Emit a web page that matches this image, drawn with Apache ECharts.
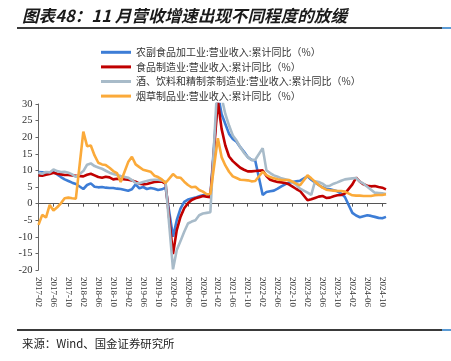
<!DOCTYPE html>
<html>
<head>
<meta charset="utf-8">
<script src="https://cdn.jsdelivr.net/npm/echarts@6/dist/echarts.min.js"></script>
<style>
html,body{margin:0;padding:0;background:#fff;}
#c{width:451px;height:361px;}
</style>
</head>
<body>
<div id="c"></div>
<script>
// Months 2017-02 .. 2024-11 (January has no cumulative value -> null)
var categories = [];
(function(){
  for (var y = 2017; y <= 2024; y++) {
    for (var m = 1; m <= 12; m++) {
      if (y === 2017 && m < 2) continue;
      if (y === 2024 && m > 11) continue;
      categories.push(y + '-' + (m < 10 ? '0' + m : '' + m));
    }
  }
})();

var seriesNames = [
  '农副食品加工业:营业收入:累计同比（%）',
  '食品制造业:营业收入:累计同比（%）',
  '酒、饮料和精制茶制造业:营业收入:累计同比（%）',
  '烟草制品业:营业收入:累计同比（%）'
];

var agriFood = [
  9.5, 9.4, 9.3, 9.3, 9.5, 8.8, 8.0, 7.3, 6.8, 6.3, 5.9,
  null, 4.4, 5.6, 6.1, 5.1, 4.9, 5.0, 4.8, 4.7, 4.7, 4.5, 4.4,
  null, 3.9, 4.3, 5.8, 4.6, 5.0, 4.4, 4.7, 4.5, 4.1, 4.3, 4.8,
  null, -10.0, -5.0, -1.5, 0.5, 1.2, 1.5, 1.8, 2.2, 2.5, 2.6, 2.4,
  null, 33.0, 27.0, 24.0, 21.0, 19.5, 18.6, 17.0, 15.6, 14.0, 13.2, 13.0,
  null, 2.6, 3.5, 3.7, 3.9, 4.5, 5.2, 5.8, 6.3, 6.5, 6.7, 6.9,
  null, 8.2, 7.2, 6.4, 5.6, 4.9, 4.5, 4.3, 4.0, 3.7, 3.0, 2.0,
  null, -2.8, -3.6, -4.1, -3.8, -3.5, -3.7, -4.0, -4.3, -4.4, -4.0
];

var foodMfg = [
  8.5, 8.4, 8.7, 8.9, 9.3, 9.0, 8.8, 8.6, 8.6, 8.5, 8.4,
  null, 8.2, 8.7, 9.0, 8.5, 8.0, 7.8, 8.1, 7.9, 7.3, 7.5, 7.4,
  null, 7.2, 7.0, 6.6, 6.0, 5.8, 5.9, 6.2, 6.5, 6.6, 6.6, 6.0,
  null, -15.2, -8.0, -4.0, -1.4, 0.1, 1.1, 1.6, 1.9, 2.3, 2.1, 1.9,
  null, 31.0, 22.5, 17.5, 14.2, 12.8, 11.8, 10.8, 10.2, 9.7, 9.7, 9.8,
  null, 10.0, 8.3, 7.2, 6.8, 6.5, 6.4, 6.2, 5.8, 5.1, 4.4, 3.8,
  null, 1.0, 1.3, 1.7, 2.1, 2.3, 1.7, 1.8, 2.2, 2.5, 2.6, 3.0,
  null, 5.8, 7.8, 6.6, 5.8, 5.4, 5.2, 5.3, 5.0, 4.8, 4.3
];

var beverage = [
  9.3, 9.0, 9.5, 9.4, 10.3, 9.8, 9.5, 9.6, 9.3, 8.8, 8.0,
  null, 9.8, 11.7, 12.1, 11.3, 10.9, 10.5, 9.9, 9.3, 8.9, 8.6, 8.3,
  null, 7.8, 7.1, 6.2, 6.1, 6.5, 6.8, 7.1, 7.2, 7.2, 7.0, 6.6,
  null, -19.8, -14.0, -11.3, -8.5, -6.0, -5.4, -5.0, -3.5, -3.0, -2.8, -2.6,
  null, 39.0, 32.0, 27.0, 23.5, 20.5, 19.0, 17.0, 15.3, 14.0, 13.1, 13.2,
  null, 16.7, 10.0, 9.2, 8.5, 8.1, 7.6, 7.3, 7.0, 6.4, 5.6, 4.5,
  null, 3.3, 2.6, 6.7, 6.5, 6.0, 5.2, 5.4, 6.0, 6.4, 6.9, 7.3,
  null, 7.6, 7.7, 6.6, 6.0, 5.1, 4.2, 3.3, 3.2, 3.1, 2.9
];

var tobacco = [
  -6.4, -3.4, -4.2, -0.4, -2.1, -1.1, 0.1, 1.6, 1.8, 1.6, 1.5,
  null, 21.7, 17.3, 17.5, 14.5, 12.3, 11.8, 11.6, 10.8, 9.8, 9.2, 6.5,
  null, 12.5, 14.1, 11.8, 11.0, 10.2, 9.9, 9.6, 8.4, 8.0, 7.3, 6.2,
  null, 8.9, 7.9, 7.8, 6.6, 5.6, 4.9, 5.1, 4.1, 3.6, 2.8, 2.9,
  null, 19.7, 14.0, 11.5, 9.6, 8.2, 7.7, 7.2, 7.1, 7.0, 6.7, 6.8,
  null, 9.6, 8.6, 8.0, 7.6, 7.3, 7.1, 7.1, 7.1, 6.6, 6.0, 5.5,
  null, 8.5, 7.6, 6.6, 5.6, 4.8, 4.2, 4.0, 3.9, 3.8, 3.8, 3.6,
  null, 2.5, 2.4, 2.4, 2.3, 2.3, 2.3, 2.5, 2.6, 2.6, 2.8
];

var seriesData = [agriFood, foodMfg, beverage, tobacco];
var colors = ['#3D7DD6', '#C00000', '#A8BBC9', '#FBAA3A'];

var yMin = -20, yMax = 30, yInterval = 5;

var chart = echarts.init(document.getElementById('c'), null, {renderer: 'canvas'});
var serif = '"Liberation Serif", "Times New Roman", serif';
var cjk = '"Noto Sans CJK SC", sans-serif';

var option = {
  animation: false,
  backgroundColor: '#fff',
  color: colors,
  graphic: [
    {type: 'text', z: 10, style: {x: 22, y: 16, text: '图表48：11 月营收增速出现不同程度的放缓',
      fill: '#1a1a1a', font: 'italic bold 16.6px ' + cjk, verticalAlign: 'middle'}},
    {type: 'line', shape: {x1: 17, y1: 28, x2: 442, y2: 28}, style: {stroke: '#3a3a3a', lineWidth: 2}},
    {type: 'line', shape: {x1: 442, y1: 28, x2: 451, y2: 28}, style: {stroke: '#5b9bd5', lineWidth: 2}},
    {type: 'line', shape: {x1: 17, y1: 330, x2: 442, y2: 330}, style: {stroke: '#3a3a3a', lineWidth: 2}},
    {type: 'line', shape: {x1: 442, y1: 330, x2: 451, y2: 330}, style: {stroke: '#5b9bd5', lineWidth: 2}},
    {type: 'text', style: {x: 22, y: 344, text: '来源：Wind、国金证券研究所',
      fill: '#222', font: '11.4px ' + cjk, verticalAlign: 'middle'}}
  ],
  legend: {
    orient: 'vertical',
    left: 101,
    top: 45,
    padding: 0,
    icon: 'rect',
    itemWidth: 30,
    itemHeight: 3,
    itemGap: 0,
    textStyle: {fontFamily: cjk, fontSize: 10, color: '#333', lineHeight: 14.6},
    data: seriesNames
  },
  grid: {left: 38.5, right: 65, top: 104, bottom: 91, containLabel: false},
  xAxis: [
    {
      type: 'category',
      data: categories,
      boundaryGap: false,
      position: 'bottom',
      axisLine: {show: false, onZero: false},
      axisTick: {show: false},
      splitLine: {show: false},
      axisLabel: {
        interval: 3, rotate: -90, margin: 7,
        fontFamily: serif, fontSize: 9, color: '#333'
      }
    },
    {
      type: 'category',
      data: categories,
      boundaryGap: false,
      position: 'bottom',
      axisLine: {show: true, onZero: true, lineStyle: {color: '#555', width: 1}},
      axisTick: {show: true, interval: 3, length: 3, lineStyle: {color: '#555'}},
      axisLabel: {show: false},
      splitLine: {show: false}
    }
  ],
  yAxis: {
    type: 'value',
    min: yMin, max: yMax, interval: yInterval,
    axisLine: {show: true, lineStyle: {color: '#666', width: 1}},
    axisTick: {show: true, length: 3, lineStyle: {color: '#666'}},
    splitLine: {show: false},
    axisLabel: {fontFamily: serif, fontSize: 10.5, color: '#333', margin: 6}
  },
  series: seriesNames.map(function(name, i){
    return {
      name: name,
      type: 'line',
      xAxisIndex: 0,
      data: seriesData[i],
      showSymbol: false,
      symbol: 'none',
      connectNulls: true,
      clip: true,
      lineStyle: {width: 2.6, color: colors[i]},
      itemStyle: {color: colors[i]},
      z: 2 + i
    };
  })
};
chart.setOption(option);
</script>
</body>
</html>
